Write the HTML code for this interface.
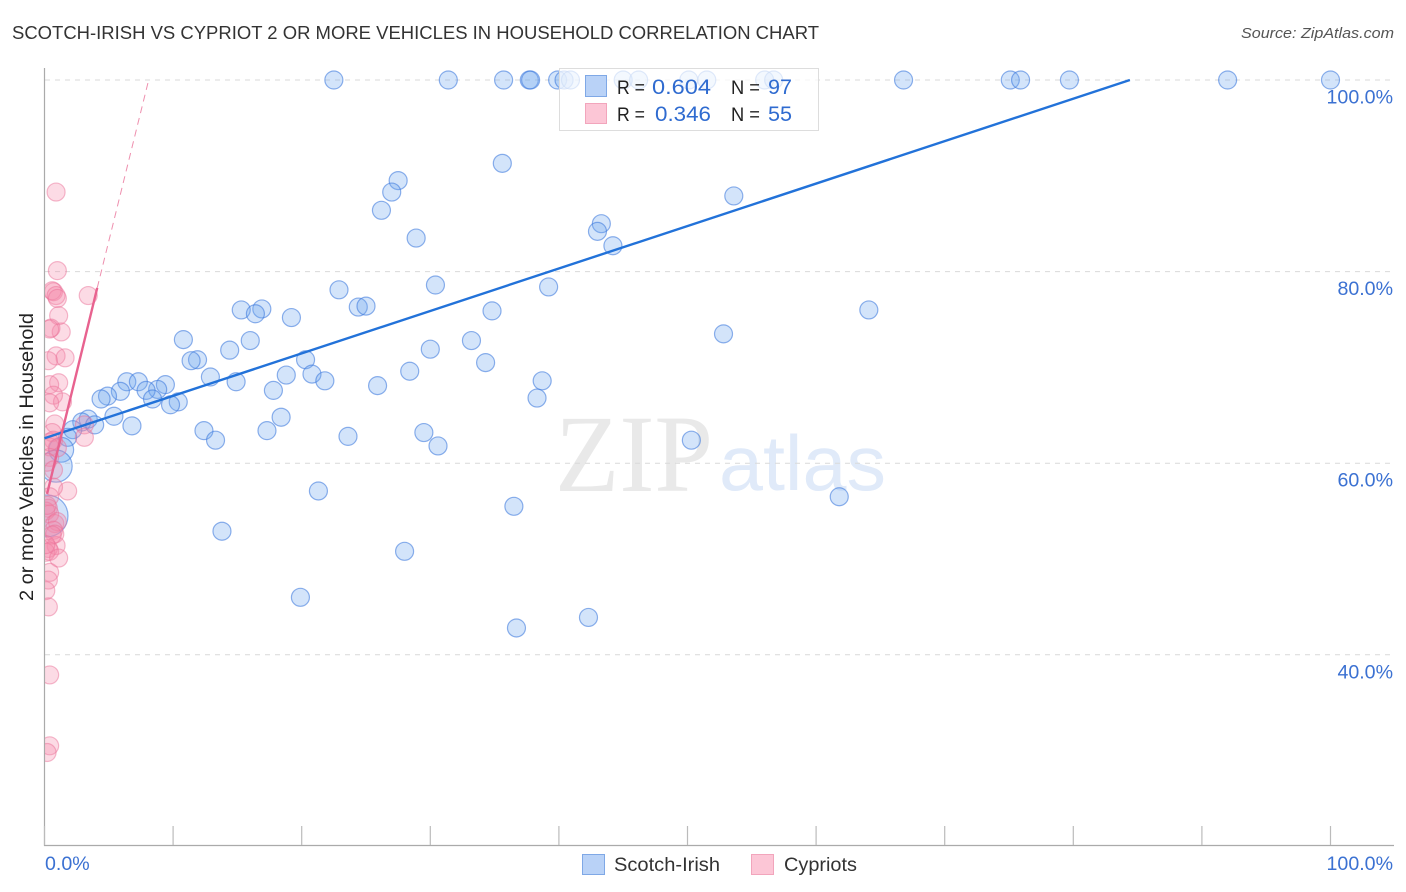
<!DOCTYPE html>
<html>
<head>
<meta charset="utf-8">
<title>Scotch-Irish vs Cypriot 2 or more Vehicles in Household Correlation Chart</title>
<style>
html,body{margin:0;padding:0;background:#fff;}
svg{display:block;font-family:"Liberation Sans",sans-serif;}
</style>
</head>
<body>
<svg id="chart" width="1406" height="892" viewBox="0 0 1406 892" xmlns="http://www.w3.org/2000/svg">
  <defs>
    <clipPath id="plot-clip"><rect x="45" y="60" width="1349" height="785"></rect></clipPath>
  </defs>
  <rect width="1406" height="892" fill="#fff"></rect>
  <text x="12" y="39" font-size="18" fill="#333" textLength="807" lengthAdjust="spacingAndGlyphs">SCOTCH-IRISH VS CYPRIOT 2 OR MORE VEHICLES IN HOUSEHOLD CORRELATION CHART</text>
  <text x="1394" y="38" font-size="15" font-style="italic" fill="#555" text-anchor="end" textLength="153" lengthAdjust="spacingAndGlyphs">Source: ZipAtlas.com</text>
  <g>
    <text x="555" y="491" font-family="'Liberation Serif',serif" font-size="110" fill="#e9e9e9" textLength="158" lengthAdjust="spacingAndGlyphs">ZIP</text>
    <text x="719" y="490" font-size="78" fill="#e0eaf9" textLength="167" lengthAdjust="spacingAndGlyphs">atlas</text>
  </g>
  <g id="grid"></g>
  <g id="axes"></g>
  <g id="points" clip-path="url(#plot-clip)"></g>
  <g id="trends"></g>
  <text transform="translate(33,457) rotate(-90)" font-size="19.5" fill="#222" text-anchor="middle" textLength="288" lengthAdjust="spacingAndGlyphs">2 or more Vehicles in Household</text>

  <g>
    <rect x="559.5" y="68.5" width="259" height="62" fill="#fff" fill-opacity="0.72" stroke="#dddddd"></rect>
    <rect x="585.5" y="75.5" width="21" height="21" fill="#b9d2f7" stroke="#7fa8e6"></rect>
    <rect x="585.5" y="103.5" width="21" height="20" fill="#fcc6d6" stroke="#f2a5bc"></rect>
    <text x="617" y="94" font-size="19" fill="#222" textLength="28" lengthAdjust="spacingAndGlyphs">R =</text>
    <text x="652" y="94" font-size="21" fill="#2f6bd0" textLength="59" lengthAdjust="spacingAndGlyphs">0.604</text>
    <text x="731" y="94" font-size="19" fill="#222" textLength="29" lengthAdjust="spacingAndGlyphs">N =</text>
    <text x="768" y="94" font-size="21" fill="#2f6bd0" textLength="24" lengthAdjust="spacingAndGlyphs">97</text>
    <text x="617" y="121" font-size="19" fill="#222" textLength="28" lengthAdjust="spacingAndGlyphs">R =</text>
    <text x="655" y="121" font-size="21" fill="#2f6bd0" textLength="56" lengthAdjust="spacingAndGlyphs">0.346</text>
    <text x="731" y="121" font-size="19" fill="#222" textLength="29" lengthAdjust="spacingAndGlyphs">N =</text>
    <text x="768" y="121" font-size="21" fill="#2f6bd0" textLength="24" lengthAdjust="spacingAndGlyphs">55</text>
  </g>

  <g>
    <rect x="582.5" y="854.5" width="22" height="20" fill="#b9d2f7" stroke="#7fa8e6"></rect>
    <text x="614" y="871" font-size="19.5" fill="#333" textLength="106" lengthAdjust="spacingAndGlyphs">Scotch-Irish</text>
    <rect x="751.5" y="854.5" width="22" height="20" fill="#fcc6d6" stroke="#f2a5bc"></rect>
    <text x="784" y="871" font-size="19.5" fill="#333" textLength="73" lengthAdjust="spacingAndGlyphs">Cypriots</text>
  </g>
</svg>
<script>
var yTickValues = [100, 80, 60, 40];
var xTickValues = [0, 10, 20, 30, 40, 50, 60, 70, 80, 90, 100];
var xEdgeLabels = ["0.0%", "100.0%"];

var blueX = [22.5,31.4,35.7,37.7,37.8,39.9,40.4,40.9,45.0,46.2,50.1,51.5,56.0,56.7,66.8,75.1,75.9,79.7,92.0,100,
35.6,53.6,27.5,27.0,26.2,28.9,43.3,43.0,44.2,30.4,22.9,39.2,24.4,25.0,15.3,16.9,16.4,19.2,34.8,64.1,
52.8,10.8,16.0,14.4,33.2,30.0,11.9,11.4,20.3,34.3,12.9,18.8,20.8,21.8,28.4,14.9,17.8,25.9,6.4,7.3,
9.4,8.8,5.9,7.9,4.9,4.4,8.4,10.4,9.8,38.7,38.3,5.4,3.4,2.9,3.9,6.8,18.4,12.4,13.3,17.3,
23.6,29.5,30.6,50.3,2.2,1.8,1.3,0.9,0.2,21.3,36.5,61.8,13.8,28.0,19.9,36.7,42.3];
var blueY = [100,100,100,100,100,100,100,100,100,100,100,100,100,100,100,100,100,100,100,100,
91.3,87.9,89.5,88.3,86.4,83.5,85.0,84.2,82.7,78.6,78.1,78.4,76.3,76.4,76.0,76.1,75.6,75.2,75.9,76.0,
73.5,72.9,72.8,71.8,72.8,71.9,70.8,70.7,70.8,70.5,69.0,69.2,69.3,68.6,69.6,68.5,67.6,68.1,68.5,68.5,
68.2,67.7,67.5,67.6,67.0,66.7,66.7,66.4,66.1,68.6,66.8,64.9,64.6,64.3,64.0,63.9,64.8,63.4,62.4,63.4,
62.8,63.2,61.8,62.4,63.5,62.7,61.4,59.7,54.5,57.1,55.5,56.5,52.9,50.8,46.0,42.8,43.9];
var blueWeight = [1,1,1,1,1,1,1,1,1,1,1,1,1,1,1,1,1,1,1,1,
1,1,1,1,1,1,1,1,1,1,1,1,1,1,1,1,1,1,1,1,
1,1,1,1,1,1,1,1,1,1,1,1,1,1,1,1,1,1,1,1,
1,1,1,1,1,1,1,1,1,1,1,1,1,1,1,1,1,1,1,1,
1,1,1,1,1,1,1.9,3.2,5.4,1,1,1,1,1,1,1,1];

var pinkX = [0.9,1.0,0.7,0.6,0.9,1.0,3.4,1.1,1.3,0.5,0.4,0.9,1.6,0.3,1.1,0.4,0.7,1.4,0.4,0.8,
3.1,3.1,0.6,0.7,0.4,1.0,0.4,0.2,1.8,0.7,0.4,0.3,0.1,0.4,0.8,1.0,0.7,0.8,0.9,0.3,
0.1,0.4,1.1,0.4,0.3,0.1,0.3,0.4,0.4,0.2,0.6,0.1,0.2,0.7,0.4];
var pinkY = [88.3,80.1,77.9,78.0,77.5,77.2,77.5,75.4,73.7,74.1,74.0,71.2,71.0,70.7,68.4,68.2,67.1,66.4,66.3,64.1,
64.0,62.7,63.2,62.4,61.7,61.6,60.6,60.1,57.1,57.5,56.5,55.3,55.0,54.7,53.7,53.9,53.0,52.6,51.4,51.1,
50.7,50.8,50.1,48.6,47.8,46.7,45.0,37.9,30.5,29.8,52.5,51.5,55.6,59.3,62.2];

var blueTrendX = [0, 84.4];
var blueTrendY = [62.6, 100];
var pinkSolidX = [0.2, 4.1];
var pinkSolidY = [56.8, 78.3];
var pinkDashX = [4.1, 8.1];
var pinkDashY = [78.3, 100];

var NS = "http://www.w3.org/2000/svg";
function xScale(v) { return 44.5 + v * 12.86; }
function yScale(v) { return 80 + (100 - v) * 9.58; }
function make(tag, parent, attrs) {
  var el = document.createElementNS(NS, tag);
  for (var k in attrs) el.setAttribute(k, attrs[k]);
  parent.appendChild(el);
  return el;
}
var grid = document.getElementById("grid");
var axes = document.getElementById("axes");
var points = document.getElementById("points");
var trends = document.getElementById("trends");

yTickValues.forEach(function (v) {
  var line = make("line", grid, {x1: 45, x2: 1394, y1: yScale(v), y2: yScale(v), stroke: "#d9d9d9", "stroke-width": 1, "stroke-dasharray": "5 5"});
  
  
  var label = make("text", axes, {x: 1393, y: yScale(v) + 23.5, "font-size": 19.6, fill: "#3b71d2", "text-anchor": "end"});
  label.textContent = v.toFixed(1) + "%";
  
  
});

var yAxis = make("line", axes, {x1: 44.5, x2: 44.5, y1: 68, y2: 846, stroke: "#aaaaaa", "stroke-width": 1.2});


var xAxis = make("line", axes, {x1: 44, x2: 1394, y1: 845.5, y2: 845.5, stroke: "#aaaaaa", "stroke-width": 1.2});



xTickValues.forEach(function (v) {
  var tick = make("line", axes, {x1: xScale(v), x2: xScale(v), y1: 826, y2: 845, stroke: "#bbbbbb", "stroke-width": 1.2});
  
  
});

var xLabelLeft = make("text", axes, {x: 45, y: 870, "font-size": 19.6, fill: "#3b71d2"});
xLabelLeft.textContent = xEdgeLabels[0];


var xLabelRight = make("text", axes, {x: 1393, y: 870, "font-size": 19.6, fill: "#3b71d2", "text-anchor": "end"});
xLabelRight.textContent = xEdgeLabels[1];



blueX.forEach(function (v, i) {
  var c = make("circle", points, {cx: xScale(v), cy: yScale(blueY[i]), r: 9 * Math.sqrt(blueWeight[i]), fill: "rgba(110,165,240,0.30)", stroke: "rgba(60,120,220,0.58)", "stroke-width": 1.2});
  
  
});
pinkX.forEach(function (v, i) {
  var c = make("circle", points, {cx: xScale(v), cy: yScale(pinkY[i]), r: 9, fill: "rgba(245,135,168,0.30)", stroke: "rgba(235,110,150,0.48)", "stroke-width": 1.2});
  
  
});

var blueLine = make("line", trends, {x1: xScale(blueTrendX[0]), y1: yScale(blueTrendY[0]), x2: xScale(blueTrendX[1]), y2: yScale(blueTrendY[1]), stroke: "#2272d9", "stroke-width": 2.4});


var pinkLine = make("line", trends, {x1: xScale(pinkSolidX[0]), y1: yScale(pinkSolidY[0]), x2: xScale(pinkSolidX[1]), y2: yScale(pinkSolidY[1]), stroke: "#e8628f", "stroke-width": 2.4});


var pinkDash = make("line", trends, {x1: xScale(pinkDashX[0]), y1: yScale(pinkDashY[0]), x2: xScale(pinkDashX[1]), y2: yScale(pinkDashY[1]), stroke: "#ee8fae", "stroke-width": 1, "stroke-dasharray": "7 5"});


</script>
</body>
</html>
